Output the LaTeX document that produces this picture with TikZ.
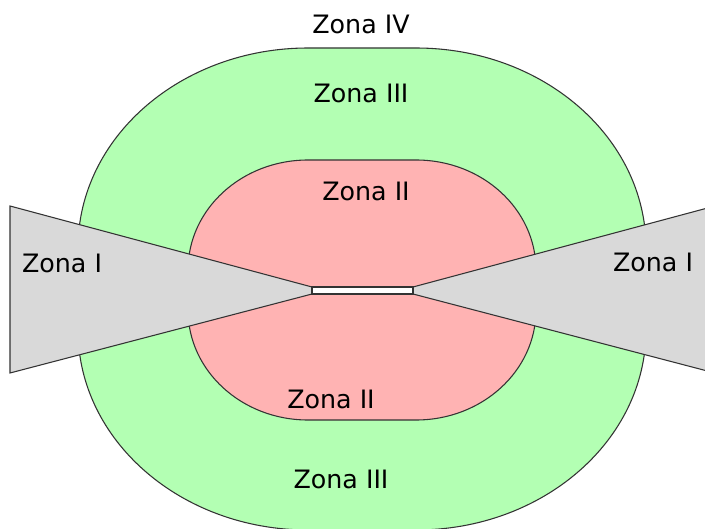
\documentclass[tikz,border=0pt]{standalone}
\usepackage{fontspec}
\setmainfont{DejaVu Sans}
\definecolor{zonagruen}{RGB}{179,255,179}
\definecolor{zonarot}{RGB}{255,179,179}
\definecolor{zonagrau}{RGB}{217,217,217}

\begin{document}
\begin{tikzpicture}[x=0.75pt,y=0.75pt,
		rand/.style={draw=black!80,line width=0.8pt},
		zone/.style={font=\fontsize{19}{23}\selectfont,inner sep=0pt}]
		\useasboundingbox (0,0) rectangle (705,528);
		
		%Zona III (aussen)
		\draw[rand,fill=zonagruen] (308,480) -- (416,480)
		arc[start angle=90,end angle=0,x radius=230,y radius=200] -- (646,198)
		arc[start angle=0,end angle=-90,x radius=230,y radius=200] -- (308,-2)
		arc[start angle=270,end angle=180,x radius=230,y radius=200] -- (78,280)
		arc[start angle=180,end angle=90,x radius=230,y radius=200] -- cycle;
		
		%Zona II (innen)
		\draw[rand,fill=zonarot] (308,368) -- (416,368)
		arc[start angle=90,end angle=0,x radius=120,y radius=110] -- (536,218)
		arc[start angle=0,end angle=-90,x radius=120,y radius=110] -- (308,108)
		arc[start angle=270,end angle=180,x radius=120,y radius=110] -- (188,258)
		arc[start angle=180,end angle=90,x radius=120,y radius=110] -- cycle;
		
		%Koordinaten für die Keile
		\coordinate (A) at (10,322);
		\coordinate (B) at (312,241);
		\coordinate (C) at (312,234);
		\coordinate (D) at (10,155);
		\coordinate (E) at (715,322);
		\coordinate (F) at (413,241);
		\coordinate (G) at (413,234);
		\coordinate (H) at (715,155);
		
		\draw[rand,fill=zonagrau] (A) -- (B) -- (C) -- (D) -- cycle;
		\draw[rand,fill=zonagrau] (E) -- (F) -- (G) -- (H) -- cycle;
		\draw[rand,fill=white] (C) rectangle (F);
		
		%Beschriftung
		\node[zone] (z4)  at (361,504) {Zona IV};
		\node[zone] (z3o) at (361,435) {Zona III};
		\node[zone] (z2o) at (366,337) {Zona II};
		\node[zone] (z1l) at (62,265)  {Zona I};
		\node[zone] (z1r) at (653,266) {Zona I};
		\node[zone] (z2u) at (331,129) {Zona II};
		\node[zone] (z3u) at (341,49)  {Zona III};
\end{tikzpicture}
\end{document}
